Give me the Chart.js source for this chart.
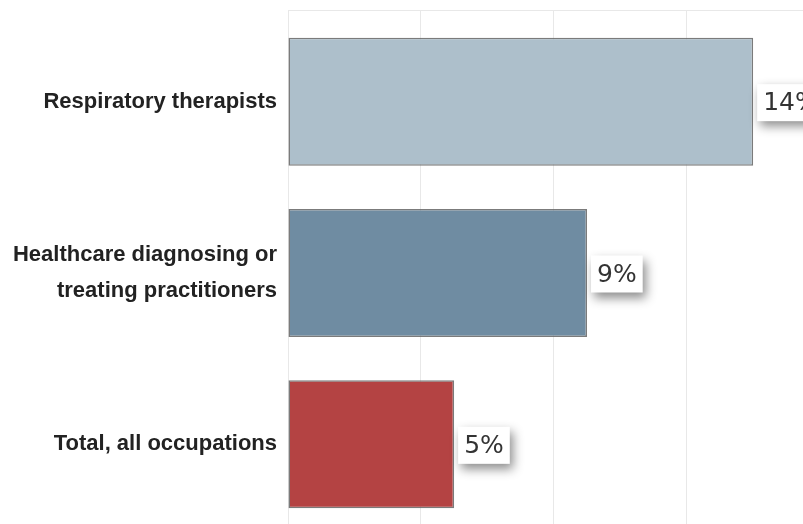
<!DOCTYPE html>
<html>
<head>
<meta charset="utf-8">
<script src="https://cdn.jsdelivr.net/npm/chart.js@4.4.0/dist/chart.umd.min.js"></script>
<style>
  html, body { margin: 0; padding: 0; background: #ffffff; overflow: hidden; }
  #wrap { width: 803px; height: 524px; position: relative; overflow: hidden; }
  #c { display: block; }
</style>
</head>
<body>
<div id="wrap"><canvas id="c" width="803" height="530"></canvas></div>
<script>
// ---- data ----
const categories = [
  'Respiratory therapists',
  ['Healthcare diagnosing or', 'treating practitioners'],
  'Total, all occupations'
];
const values = [14, 9, 5];
const valueLabels = ['14%', '9%', '5%'];
const barColors = ['#adbfcb', '#6f8ca2', '#b44343'];
const xTickStep = 4;
const xMin = 0;
const xMax = 15.5;

const labelBoxes = {
  id: 'labelBoxes',
  afterDatasetsDraw(chart) {
    const ctx = chart.ctx;
    const meta = chart.getDatasetMeta(0);
    ctx.save();
    ctx.font = '25px "DejaVu Sans", sans-serif';
    ctx.textBaseline = 'middle';
    meta.data.forEach((bar, i) => {
      const p = bar.getProps(['x', 'y'], true);
      const text = valueLabels[i];
      const tw = ctx.measureText(text).width;
      const bw = tw + 12;
      const bh = 37;
      const left = p.x + 4;
      const top = p.y - bh / 2 + 1;
      ctx.save();
      ctx.shadowColor = 'rgba(0,0,0,0.45)';
      ctx.shadowBlur = 10;
      ctx.shadowOffsetX = 3;
      ctx.shadowOffsetY = 5;
      ctx.fillStyle = '#ffffff';
      ctx.fillRect(left, top, bw, bh);
      ctx.restore();
      ctx.fillStyle = '#333333';
      ctx.fillText(text, left + 6, top + bh / 2 + 1);
    });
    ctx.restore();
  }
};

new Chart(document.getElementById('c'), {
  type: 'bar',
  data: {
    labels: categories,
    datasets: [{
      data: values,
      backgroundColor: barColors,
      borderColor: 'rgba(100,100,100,0.85)',
      borderWidth: 1.5,
      borderSkipped: false,
      categoryPercentage: 1,
      barPercentage: 0.747
    }]
  },
  options: {
    indexAxis: 'y',
    responsive: false,
    animation: false,
    layout: { padding: { top: 10, left: 0, right: 0, bottom: 0 } },
    plugins: { legend: { display: false }, tooltip: { enabled: false } },
    scales: {
      x: {
        type: 'linear',
        position: 'top',
        bounds: 'data',
        min: xMin,
        max: xMax,
        ticks: { display: false, stepSize: xTickStep, includeBounds: false },
        grid: { color: '#e8e8e8', lineWidth: 1, drawTicks: true, tickLength: 6 },
        border: { display: false }
      },
      x2: {
        type: 'linear',
        position: 'top',
        bounds: 'data',
        min: xMin,
        max: xMax,
        ticks: { display: false, stepSize: xTickStep, includeBounds: false },
        grid: { display: false, drawOnChartArea: false, drawTicks: false },
        border: { display: true, color: '#e8e8e8', width: 1 }
      },
      y: {
        type: 'category',
        afterFit(scale) {
          scale.width = 288;
          scale.paddingTop = 0;
          scale.paddingBottom = 0;
        },
        ticks: {
          padding: 11,
          color: '#222222',
          font: { family: '"Liberation Sans", Arial, sans-serif', weight: 'bold', size: 22, lineHeight: 1.6 }
        },
        grid: { display: false, drawTicks: false },
        border: { display: false }
      }
    }
  },
  plugins: [labelBoxes]
});
</script>
</body>
</html>
